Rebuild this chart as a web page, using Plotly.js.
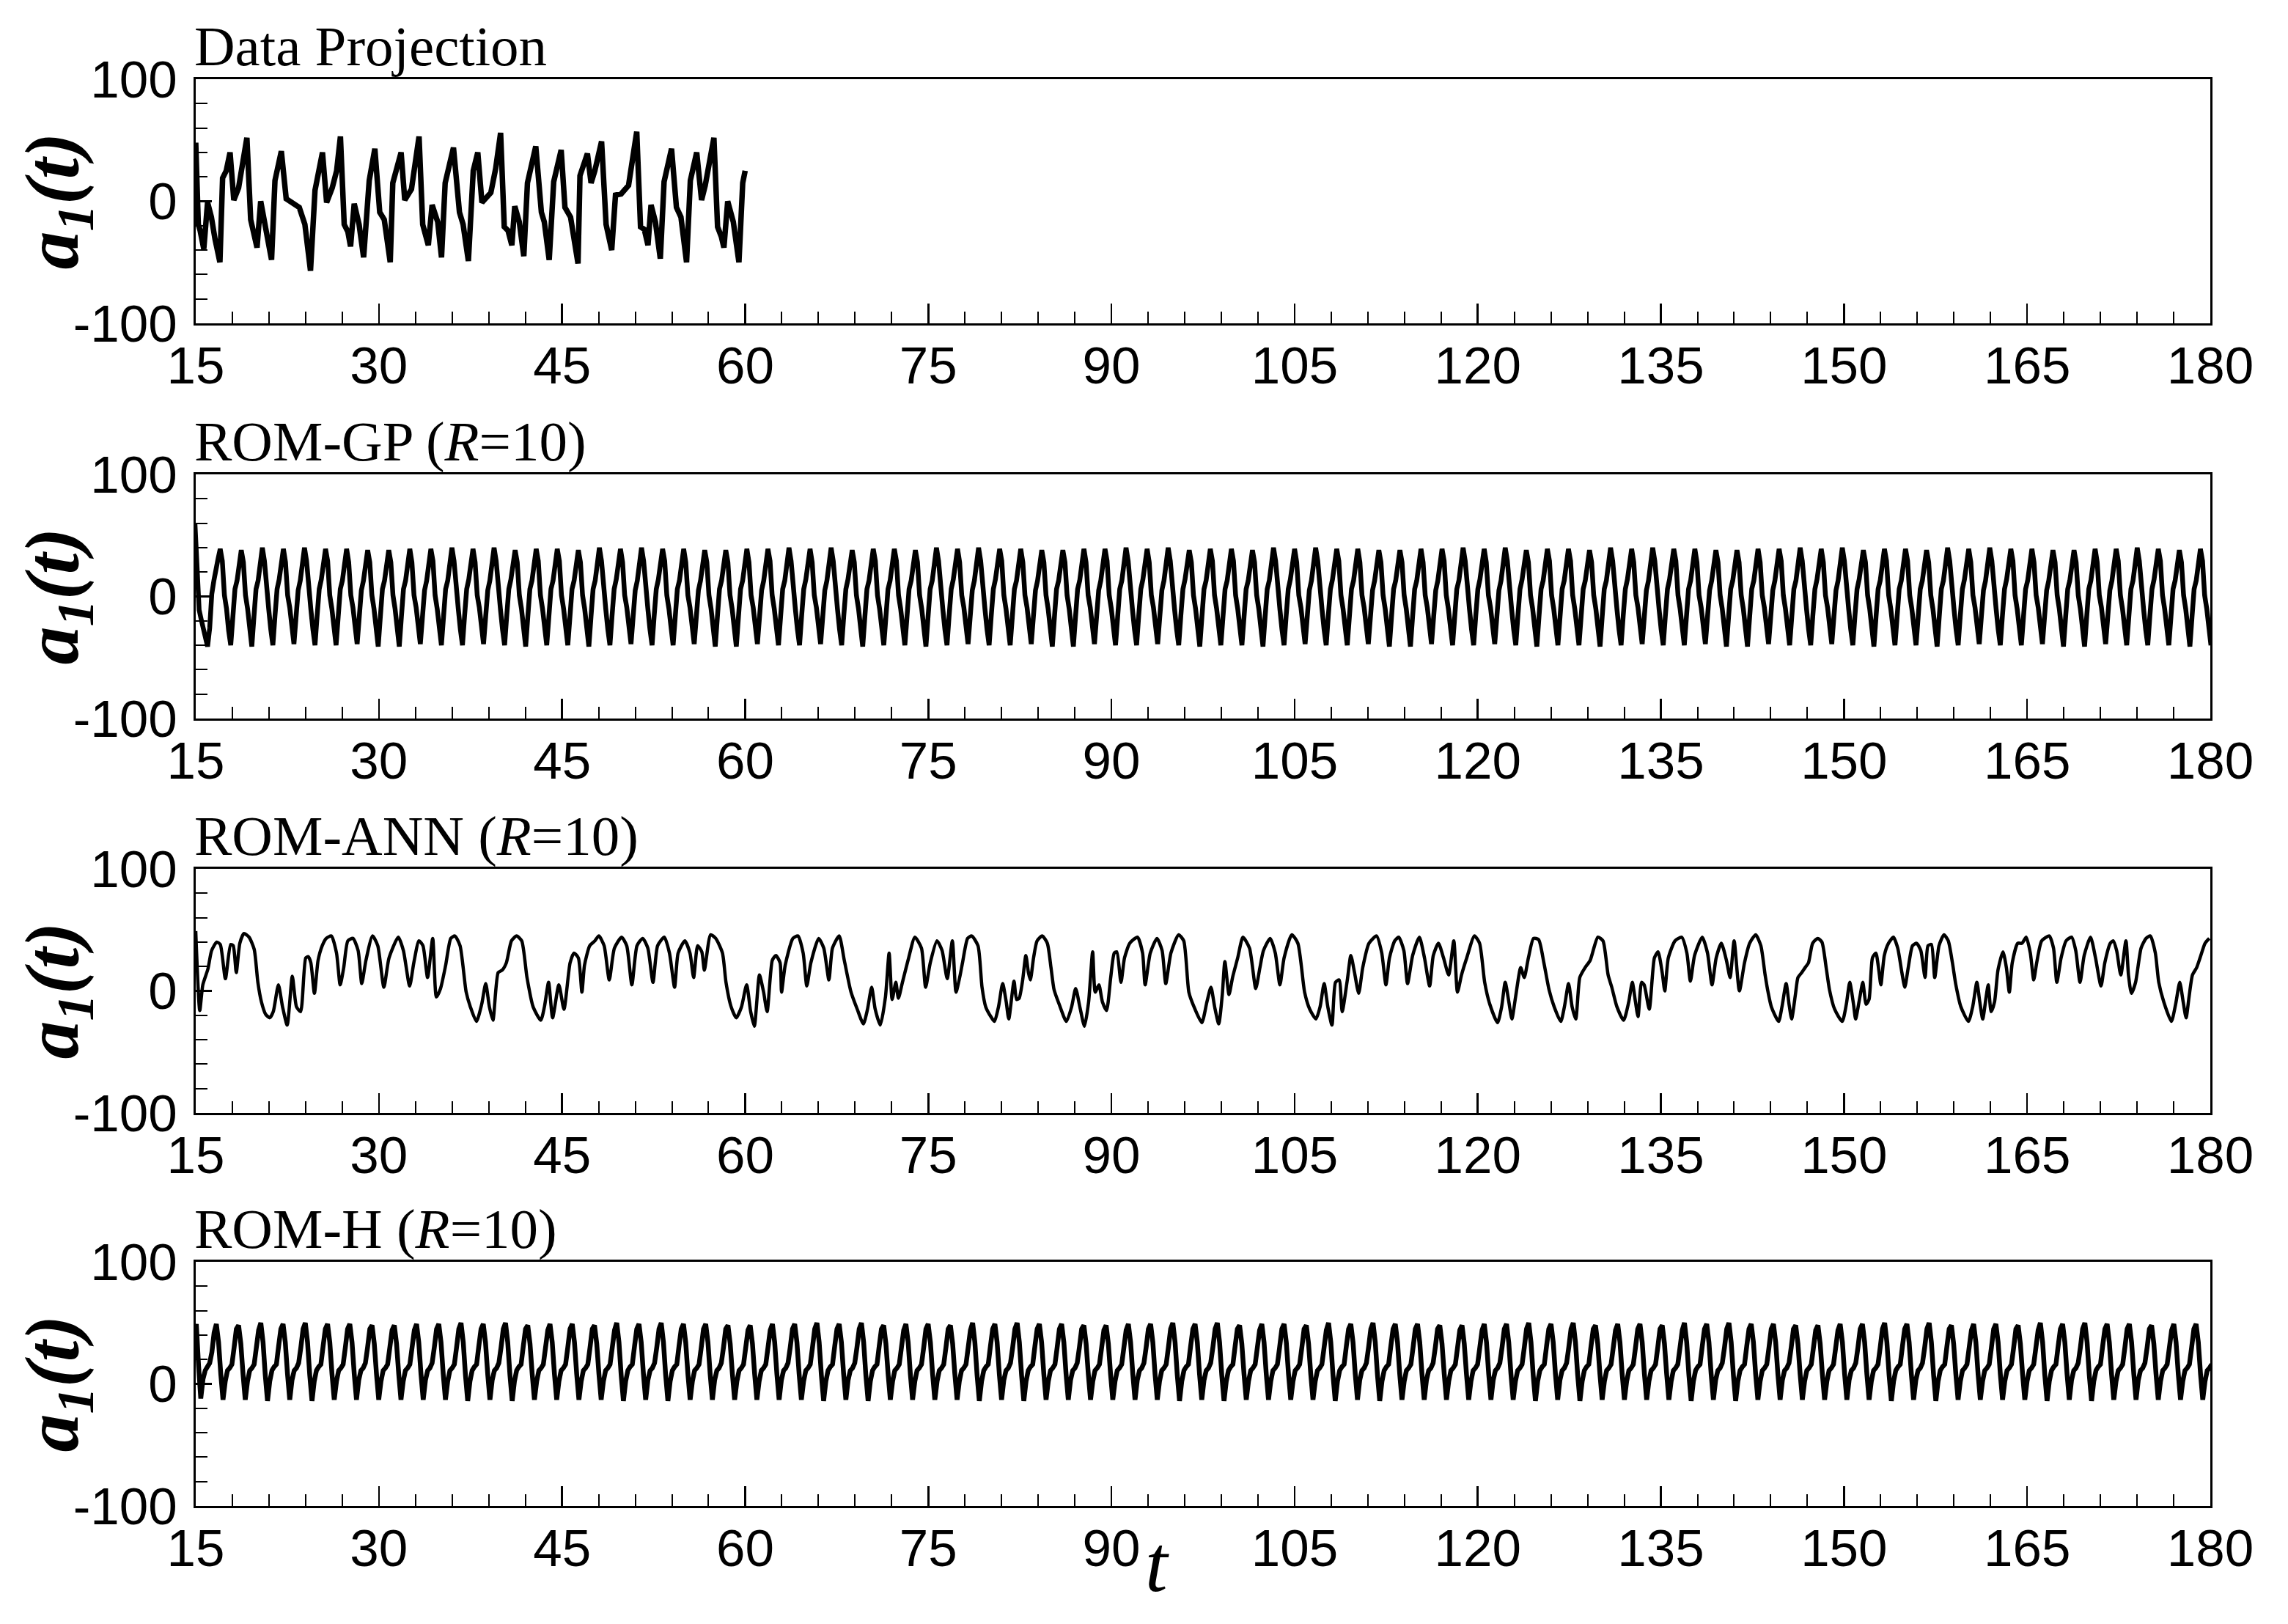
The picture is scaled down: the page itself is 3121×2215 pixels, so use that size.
<!DOCTYPE html>
<html>
<head>
<meta charset="utf-8">
<script src="https://cdn.plot.ly/plotly-3.0.1.min.js"></script>
<style>html,body{margin:0;padding:0;background:#fff;}#plot{width:3121px;height:2215px;}</style>
</head>
<body>
<div id="plot"></div>
<script>
// ---------------- data ----------------
const panelTitles = ["Data Projection", "ROM-GP (<i>R</i>=10)", "ROM-ANN (<i>R</i>=10)", "ROM-H (<i>R</i>=10)"];
const xTickStart = 15, xTickStep = 15, xMinorStep = 3;
const yTickVals = [-100, 0, 100];
const yTickText = ["-100", "0", "100"];

// Panel 1: Data Projection (t from 15 to 60)
const tProj = [15.0,15.21,15.36,15.66,15.97,16.28,16.58,16.98,17.20,17.50,17.81,18.12,18.51,18.88,19.19,19.50,19.71,20.02,20.32,20.66,
21.21,21.49,22.01,22.41,22.87,23.48,23.94,24.40,24.77,25.07,25.38,25.72,26.18,26.54,26.85,27.16,27.46,27.68,27.98,28.38,
28.75,29.21,29.67,30.07,30.44,30.93,31.14,31.82,32.12,32.67,33.29,33.59,34.05,34.36,34.82,35.13,35.43,36.11,36.60,36.90,
37.33,37.73,38.10,38.44,39.17,39.57,39.97,40.27,40.58,40.89,41.13,41.50,41.87,42.17,42.85,43.31,43.55,43.95,44.32,44.93,
45.24,45.70,46.31,46.47,47.08,47.38,47.69,48.24,48.61,49.07,49.38,49.84,50.45,51.12,51.43,51.74,52.04,52.29,52.65,53.05,
53.36,53.97,54.37,54.74,55.20,55.51,56.03,56.43,56.73,57.44,57.74,58.05,58.26,58.57,59.03,59.49,59.80,60.0];
const aProj = [48,-19,-24,-39,-1,-13,-31,-50,19,25,40,1,11,35,52,-15,-25,-38,0,-17,
-48,17,41,2,-1,-5,-19,-57,9,24,40,-1,11,25,53,-19,-25,-37,-2,-19,
-46,17,43,-9,-15,-50,15,40,1,10,53,-19,-36,-3,-17,-46,15,44,-9,-19,
-49,25,40,-1,7,27,56,-21,-24,-36,-4,-17,-45,15,45,-9,-17,-48,16,42,
-5,-13,-51,21,39,15,25,49,-19,-40,5,6,13,57,-21,-23,-36,-3,-17,-47,
16,43,-5,-13,-50,17,40,1,13,52,-21,-29,-38,0,-17,-50,15,25];

// Panel 2: ROM-GP, sampled every dtGP starting at t0GP
const t0GP = 14.934, dtGP = 0.17254;
const aGP = [
60,27,-11,-19,-26,-34,-41,-26,2,13,24,31,
39,29,1,-10,-28,-40,-17,6,13,28, 38,28,1,-10,-28,-41,-17,6,13,28, 40,29,2,-10,-27,-40,-16,6,14,28, 39,28,1,-9,-28,-39,-17,5,13,27,
40,29,2,-10,-27,-40,-16,6,14,28, 39,29,1,-10,-28,-40,-17,6,13,28, 39,28,1,-9,-28,-39,-17,5,13,27, 38,28,1,-10,-28,-41,-17,6,13,28,
38,28,1,-10,-28,-41,-17,6,13,28, 39,28,1,-9,-28,-39,-17,5,13,27, 39,29,1,-10,-28,-40,-17,6,13,28, 40,29,2,-10,-27,-40,-16,6,14,28,
39,28,1,-9,-28,-39,-17,5,13,27, 40,29,2,-10,-27,-40,-16,6,14,28, 38,28,1,-10,-28,-41,-17,6,13,28, 39,29,1,-10,-28,-40,-17,6,13,28,
39,29,1,-10,-28,-40,-17,6,13,28, 38,28,1,-10,-28,-41,-17,6,13,28, 40,29,2,-10,-27,-40,-16,6,14,28, 39,28,1,-9,-28,-39,-17,5,13,27,
40,29,2,-10,-27,-40,-16,6,14,28, 39,29,1,-10,-28,-40,-17,6,13,28, 39,28,1,-9,-28,-39,-17,5,13,27, 38,28,1,-10,-28,-41,-17,6,13,28,
38,28,1,-10,-28,-41,-17,6,13,28, 39,28,1,-9,-28,-39,-17,5,13,27, 39,29,1,-10,-28,-40,-17,6,13,28, 40,29,2,-10,-27,-40,-16,6,14,28,
39,28,1,-9,-28,-39,-17,5,13,27, 40,29,2,-10,-27,-40,-16,6,14,28, 38,28,1,-10,-28,-41,-17,6,13,28, 39,29,1,-10,-28,-40,-17,6,13,28,
39,29,1,-10,-28,-40,-17,6,13,28, 38,28,1,-10,-28,-41,-17,6,13,28, 40,29,2,-10,-27,-40,-16,6,14,28, 39,28,1,-9,-28,-39,-17,5,13,27,
40,29,2,-10,-27,-40,-16,6,14,28, 39,29,1,-10,-28,-40,-17,6,13,28, 39,28,1,-9,-28,-39,-17,5,13,27, 38,28,1,-10,-28,-41,-17,6,13,28,
38,28,1,-10,-28,-41,-17,6,13,28, 39,28,1,-9,-28,-39,-17,5,13,27, 39,29,1,-10,-28,-40,-17,6,13,28, 40,29,2,-10,-27,-40,-16,6,14,28,
39,28,1,-9,-28,-39,-17,5,13,27, 40,29,2,-10,-27,-40,-16,6,14,28, 38,28,1,-10,-28,-41,-17,6,13,28, 39,29,1,-10,-28,-40,-17,6,13,28,
39,29,1,-10,-28,-40,-17,6,13,28, 38,28,1,-10,-28,-41,-17,6,13,28, 40,29,2,-10,-27,-40,-16,6,14,28, 39,28,1,-9,-28,-39,-17,5,13,27,
40,29,2,-10,-27,-40,-16,6,14,28, 39,29,1,-10,-28,-40,-17,6,13,28, 39,28,1,-9,-28,-39,-17,5,13,27, 38,28,1,-10,-28,-41,-17,6,13,28,
38,28,1,-10,-28,-41,-17,6,13,28, 39,28,1,-9,-28,-39,-17,5,13,27, 39,29,1,-10,-28,-40,-17,6,13,28, 40,29,2,-10,-27,-40,-16,6,14,28,
39,28,1,-9,-28,-39,-17,5,13,27, 40,29,2,-10,-27,-40,-16,6,14,28, 38,28,1,-10,-28,-41,-17,6,13,28, 39,29,1,-10,-28,-40,-17,6,13,28,
39,29,1,-10,-28,-40,-17,6,13,28, 38,28,1,-10,-28,-41,-17,6,13,28, 40,29,2,-10,-27,-40,-16,6,14,28, 39,28,1,-9,-28,-39,-17,5,13,27,
40,29,2,-10,-27,-40,-16,6,14,28, 39,29,1,-10,-28,-40,-17,6,13,28, 39,28,1,-9,-28,-39,-17,5,13,27, 38,28,1,-10,-28,-41,-17,6,13,28,
38,28,1,-10,-28,-41,-17,6,13,28, 39,28,1,-9,-28,-39,-17,5,13,27, 39,29,1,-10,-28,-40,-17,6,13,28, 40,29,2,-10,-27,-40,-16,6,14,28,
39,28,1,-9,-28,-39,-17,5,13,27, 40,29,2,-10,-27,-40,-16,6,14,28, 38,28,1,-10,-28,-41,-17,6,13,28, 39,29,1,-10,-28,-40,-17,6,13,28,
39,29,1,-10,-28,-40,-17,6,13,28, 38,28,1,-10,-28,-41,-17,6,13,28, 40,29,2,-10,-27,-40,-16,6,14,28, 39,28,1,-9,-28,-39,-17,5,13,27,
40,29,2,-10,-27,-40,-16,6,14,28, 39,29,1,-10,-28,-40,-17,6,13,28, 39,28,1,-9,-28,-39,-17,5,13,27, 38,28,1,-10,-28,-41,-17,6,13,28,
38,28,1,-10,-28,-41,-17,6,13,28, 39,28,1,-9,-28,-39,-17,5,13,27, 39,29,1,-10,-28,-40,-17,6,13,28, 40,29,2,-10,-27,-40,-16,6,14,28,
39,29,1,-10,-28,-40,-17,6,13,28, 38,28,1,-10,-28,-41,-17,6,13,28,
39,29,1,-10,-28,-40];

// Panel 3: ROM-ANN
const tANN = [15.0,15.33,15.58,16.00,16.30,16.72,17.01,17.43,17.86,18.07,18.32,18.61,18.95,19.37,19.79,20.09,20.38,20.72,21.06,21.35,
21.77,22.11,22.49,22.91,23.25,23.59,24.01,24.22,24.43,24.72,25.02,25.36,25.69,26.11,26.53,26.83,27.12,27.46,27.88,28.30,
28.60,28.94,29.48,29.91,30.41,30.83,31.59,32.01,32.52,32.86,33.28,33.61,33.99,34.41,34.71,35.05,35.47,35.89,36.23,36.65,
37.15,37.49,37.99,38.42,38.75,39.05,39.34,39.77,40.10,40.44,40.86,41.28,41.70,42.13,42.63,43.26,43.56,43.90,44.23,44.74,
45.16,45.66,45.98,46.34,46.63,46.84,47.27,47.69,48.02,48.45,48.87,49.29,49.88,50.30,50.72,51.14,51.61,52.03,52.45,52.83,
53.38,53.80,54.22,54.51,55.06,55.48,55.78,56.11,56.45,56.66,57.17,57.59,58.14,58.43,58.85,59.27,59.70,60.12,60.45,60.75,
61.17,61.51,61.80,62.22,62.52,62.86,62.98,63.28,63.91,64.33,64.75,65.05,65.38,66.02,66.44,66.86,67.15,67.70,68.12,68.67,
69.18,69.68,70.02,70.36,70.65,71.07,71.49,71.79,72.04,72.34,72.55,72.88,73.39,73.90,74.44,74.78,75.16,75.71,76.13,76.55,
76.97,77.27,77.59,77.80,78.22,78.56,79.07,79.40,79.70,80.12,80.42,80.75,81.09,81.38,81.59,82.02,82.23,82.44,82.73,82.99,
83.20,83.36,83.62,83.91,84.33,84.75,85.05,85.30,85.72,86.31,86.74,87.07,87.41,87.79,88.13,88.46,88.67,88.97,89.26,89.60,
89.94,90.23,90.44,90.78,91.07,91.50,92.13,92.55,92.76,93.18,93.73,94.15,94.45,94.87,95.50,95.92,96.34,96.76,97.40,97.82,
98.15,98.45,98.79,99.08,99.29,99.63,99.92,100.34,100.77,101.31,101.82,102.16,102.45,103.00,103.42,103.80,104.14,104.77,105.27,105.82,
106.24,106.75,107.09,107.42,107.72,108.06,108.35,108.65,108.90,109.32,109.61,109.91,110.25,110.58,111.09,111.72,112.14,112.48,112.77,113.20,
113.53,113.95,114.25,114.67,115.22,115.64,116.06,116.36,116.78,117.20,117.62,118.04,118.34,118.67,119.10,119.73,120.15,120.57,120.99,121.62,
121.96,122.25,122.55,122.80,123.10,123.52,123.81,124.15,124.57,124.99,125.42,125.84,126.26,126.80,127.10,127.44,127.73,128.03,128.36,128.79,
129.21,129.84,130.26,130.68,130.98,131.40,131.95,132.37,132.66,132.92,133.13,133.42,133.63,134.05,134.47,134.77,135.11,135.32,135.61,136.16,
136.71,137.13,137.42,137.76,138.39,138.82,139.19,139.53,139.95,140.37,140.67,141.00,141.43,141.85,142.27,142.77,143.19,143.54,143.78,144.05,
144.64,144.92,145.26,145.50,145.71,146.02,146.23,146.54,146.81,147.09,147.43,147.85,148.19,148.54,148.81,149.23,149.85,150.19,150.47,150.78,
150.95,151.30,151.54,151.81,152.05,152.33,152.61,152.85,153.02,153.30,153.64,154.05,154.40,154.74,154.98,155.26,155.61,155.95,156.29,156.64,
156.88,157.16,157.43,157.78,158.19,158.54,158.88,159.16,159.57,160.19,160.54,160.88,161.12,161.36,161.64,161.81,162.05,162.33,162.61,163.02,
163.30,163.54,163.78,164.23,164.57,164.92,165.26,165.54,165.78,166.19,166.81,167.16,167.43,167.78,168.19,168.64,168.98,169.33,169.67,170.19,
170.60,171.05,171.36,171.81,172.05,172.33,172.67,173.09,173.30,173.54,173.88,174.33,174.74,175.09,175.50,175.78,176.19,176.81,177.16,177.50,
177.78,178.02,178.26,178.54,178.88,179.16,179.57,179.92];
const aANN = [49,-16,5,18,33,40,38,10,38,37,15,39,47,44,34,7,-9,-19,-22,-17,
5,-13,-28,12,-13,-17,27,28,23,-2,25,37,43,45,31,5,19,41,43,33,
6,25,45,37,3,27,44,33,4,23,41,37,11,43,-5,2,21,43,45,37,
-1,-13,-25,-11,6,-13,-24,15,17,23,41,45,41,11,-13,-24,-13,7,-22,5,
-15,23,31,27,-1,21,37,41,45,37,9,35,44,37,5,37,43,35,7,37,
44,31,3,31,41,31,11,37,32,17,46,43,31,7,-13,-22,-13,5,-17,-29,
13,-1,-17,25,29,23,-1,21,43,45,31,4,23,43,35,9,35,45,25,-1,
-15,-27,-15,3,-15,-28,-5,31,-7,7,-6,7,27,44,35,3,23,41,33,10,
41,-1,12,23,43,45,37,3,-13,-21,-25,-13,6,-9,-23,8,-7,-6,9,29,
15,9,27,41,45,39,19,1,-11,-25,-13,2,-13,-29,-9,32,-1,5,-9,-16,
11,31,32,7,27,39,44,31,5,31,43,33,6,31,46,41,-1,-13,-26,-9,
3,-13,-27,-3,24,-3,11,27,44,35,2,19,33,43,31,5,27,46,39,-1,
-15,-23,-13,6,-13,-28,7,9,-17,9,29,15,-2,19,39,45,31,5,27,41,
44,33,6,29,44,27,4,29,39,27,13,41,-1,13,27,45,39,7,-11,-26,
-13,7,-9,-23,-5,19,11,27,43,42,23,1,-13,-25,-13,6,-13,-23,11,19,
25,44,41,13,3,-13,-24,-9,7,-9,-21,7,5,-15,27,32,15,0,27,41,
44,31,8,29,44,31,5,27,39,25,11,41,0,23,39,46,37,13,-1,-13,
-25,-13,6,-11,-23,-3,11,15,19,23,39,43,40,19,1,-15,-25,-11,7,-11,
-23,-5,7,-11,-7,27,31,17,5,29,39,44,35,15,3,19,37,39,33,11,
37,38,11,37,46,41,23,5,-13,-25,-13,7,-9,-23,-5,5,-17,-9,17,32,
19,-1,23,39,39,44,31,9,23,41,45,35,7,27,41,44,33,7,29,44,
27,4,23,39,41,33,13,41,13,-2,7,35,43,45,31,7,-9,-25,-11,7,
-9,-22,-5,13,19,27,39,43];

// Panel 4: ROM-H, sampled every dtH starting at t0H
const t0H = 14.866, dtH = 0.18219;
const aH = [
40,49,15,-12,4,11,14,17,26,42,
49,34,8,-13,2,11,13,16,30,45, 48,33,8,-13,2,11,13,16,30,44, 50,34,7,-14,2,11,14,16,31,45, 49,34,8,-13,3,11,13,17,30,45,
50,34,7,-14,2,11,14,16,31,45, 49,34,8,-13,2,11,13,16,30,45, 49,34,8,-13,3,11,13,17,30,45, 48,33,8,-13,2,11,13,16,30,44,
48,33,8,-13,2,11,13,16,30,44, 49,34,8,-13,3,11,13,17,30,45, 49,34,8,-13,2,11,13,16,30,45, 50,34,7,-14,2,11,14,16,31,45,
49,34,8,-13,3,11,13,17,30,45, 50,34,7,-14,2,11,14,16,31,45, 48,33,8,-13,2,11,13,16,30,44, 49,34,8,-13,2,11,13,16,30,45,
49,34,8,-13,2,11,13,16,30,45, 48,33,8,-13,2,11,13,16,30,44, 50,34,7,-14,2,11,14,16,31,45, 49,34,8,-13,3,11,13,17,30,45,
50,34,7,-14,2,11,14,16,31,45, 49,34,8,-13,2,11,13,16,30,45, 49,34,8,-13,3,11,13,17,30,45, 48,33,8,-13,2,11,13,16,30,44,
48,33,8,-13,2,11,13,16,30,44, 49,34,8,-13,3,11,13,17,30,45, 49,34,8,-13,2,11,13,16,30,45, 50,34,7,-14,2,11,14,16,31,45,
49,34,8,-13,3,11,13,17,30,45, 50,34,7,-14,2,11,14,16,31,45, 48,33,8,-13,2,11,13,16,30,44, 49,34,8,-13,2,11,13,16,30,45,
49,34,8,-13,2,11,13,16,30,45, 48,33,8,-13,2,11,13,16,30,44, 50,34,7,-14,2,11,14,16,31,45, 49,34,8,-13,3,11,13,17,30,45,
50,34,7,-14,2,11,14,16,31,45, 49,34,8,-13,2,11,13,16,30,45, 49,34,8,-13,3,11,13,17,30,45, 48,33,8,-13,2,11,13,16,30,44,
48,33,8,-13,2,11,13,16,30,44, 49,34,8,-13,3,11,13,17,30,45, 49,34,8,-13,2,11,13,16,30,45, 50,34,7,-14,2,11,14,16,31,45,
49,34,8,-13,3,11,13,17,30,45, 50,34,7,-14,2,11,14,16,31,45, 48,33,8,-13,2,11,13,16,30,44, 49,34,8,-13,2,11,13,16,30,45,
49,34,8,-13,2,11,13,16,30,45, 48,33,8,-13,2,11,13,16,30,44, 50,34,7,-14,2,11,14,16,31,45, 49,34,8,-13,3,11,13,17,30,45,
50,34,7,-14,2,11,14,16,31,45, 49,34,8,-13,2,11,13,16,30,45, 49,34,8,-13,3,11,13,17,30,45, 48,33,8,-13,2,11,13,16,30,44,
48,33,8,-13,2,11,13,16,30,44, 49,34,8,-13,3,11,13,17,30,45, 49,34,8,-13,2,11,13,16,30,45, 50,34,7,-14,2,11,14,16,31,45,
49,34,8,-13,3,11,13,17,30,45, 50,34,7,-14,2,11,14,16,31,45, 48,33,8,-13,2,11,13,16,30,44, 49,34,8,-13,2,11,13,16,30,45,
49,34,8,-13,2,11,13,16,30,45, 48,33,8,-13,2,11,13,16,30,44, 50,34,7,-14,2,11,14,16,31,45, 49,34,8,-13,3,11,13,17,30,45,
50,34,7,-14,2,11,14,16,31,45, 49,34,8,-13,2,11,13,16,30,45, 49,34,8,-13,3,11,13,17,30,45, 48,33,8,-13,2,11,13,16,30,44,
48,33,8,-13,2,11,13,16,30,44, 49,34,8,-13,3,11,13,17,30,45, 49,34,8,-13,2,11,13,16,30,45, 50,34,7,-14,2,11,14,16,31,45,
49,34,8,-13,3,11,13,17,30,45, 50,34,7,-14,2,11,14,16,31,45, 48,33,8,-13,2,11,13,16,30,44, 49,34,8,-13,2,11,13,16,30,45,
49,34,8,-13,2,11,13,16,30,45, 48,33,8,-13,2,11,13,16,30,44, 50,34,7,-14,2,11,14,16,31,45, 49,34,8,-13,3,11,13,17,30,45,
50,34,7,-14,2,11,14,16,31,45, 49,34,8,-13,2,11,13,16,30,45, 49,34,8,-13,3,11,13,17,30,45, 48,33,8,-13,2,11,13,16,30,44,
49,34,8,-13,2,11,13,16,30,45,
49,34,8,-13,2,11,13,16];

// ---------------- layout ----------------
const W = 3121, H = 2215;
const panelTop = [108, 647, 1185, 1721];
const panelH = 333;
const xL = 267 / W, xR = 3015 / W;
const serif = "Liberation Serif, Times New Roman, serif";
const sans = "Liberation Sans, Arial, sans-serif";

function yDomain(top) { return [1 - (top + panelH) / H, 1 - top / H]; }

const traces = [
  {x: tProj, y: aProj, xaxis: 'x', yaxis: 'y', type: 'scatter', mode: 'lines',
   line: {color: '#000', width: 7.5}},
  {y: aGP, x0: t0GP, dx: dtGP, xaxis: 'x2', yaxis: 'y2', type: 'scatter', mode: 'lines',
   line: {color: '#000', width: 6.5}},
  {x: tANN, y: aANN, xaxis: 'x3', yaxis: 'y3', type: 'scatter', mode: 'lines',
   line: {color: '#000', width: 4.5, shape: 'spline', smoothing: 0.6}},
  {y: aH, x0: t0H, dx: dtH, xaxis: 'x4', yaxis: 'y4', type: 'scatter', mode: 'lines',
   line: {color: '#000', width: 6.5}}
];

const layout = {
  width: W, height: H,
  margin: {l: 0, r: 0, t: 0, b: 0},
  paper_bgcolor: '#fff', plot_bgcolor: '#fff',
  showlegend: false,
  annotations: []
};

for (let i = 0; i < 4; i++) {
  const s = i === 0 ? '' : String(i + 1);
  const dom = yDomain(panelTop[i]);
  layout['xaxis' + s] = {
    domain: [xL, xR], anchor: 'y' + s, range: [15, 180],
    tickmode: 'linear', tick0: xTickStart, dtick: xTickStep,
    ticks: 'inside', ticklen: 27, tickwidth: 2.5, tickcolor: '#000',
    minor: {tickmode: 'linear', tick0: xTickStart, dtick: xMinorStep, ticks: 'inside', ticklen: 16, tickwidth: 2, tickcolor: '#000', showgrid: false},
    showline: true, linewidth: 3, linecolor: '#000', mirror: true,
    showgrid: false, zeroline: false,
    tickfont: {family: sans, size: 71, color: '#000'},
    ticklabelstandoff: -6, fixedrange: true
  };
  layout['yaxis' + s] = {
    domain: dom, anchor: 'x' + s, range: [-100, 100],
    tickmode: 'array', tickvals: yTickVals, ticktext: yTickText,
    ticks: 'inside', ticklen: 22, tickwidth: 2.5, tickcolor: '#000',
    minor: {tickmode: 'linear', tick0: -100, dtick: 20, ticks: 'inside', ticklen: 16, tickwidth: 2, tickcolor: '#000', showgrid: false},
    showline: true, linewidth: 3, linecolor: '#000', mirror: true,
    showgrid: false, zeroline: false,
    tickfont: {family: sans, size: 71, color: '#000'},
    ticklabelstandoff: 8, fixedrange: true
  };
  // panel title
  layout.annotations.push({
    xref: 'paper', yref: 'paper', x: 263 / W, y: dom[1], xanchor: 'left', yanchor: 'bottom',
    text: panelTitles[i], showarrow: false, font: {family: serif, size: 77, color: '#000'}
  });
  // y-axis title
  layout.annotations.push({
    xref: 'paper', yref: 'paper', x: 78 / W, y: (dom[0] + dom[1]) / 2, xanchor: 'center', yanchor: 'middle',
    text: 'a<sub>1</sub>(t)', textangle: -90, showarrow: false,
    font: {family: serif, size: 104, color: '#000', weight: 'bold', style: 'italic'}
  });
}
// x-axis title (bottom panel only)
layout.annotations.push({
  xref: 'paper', yref: 'paper', x: 1578 / W, y: 1 - 2070 / H, xanchor: 'center', yanchor: 'top',
  text: 't', showarrow: false, font: {family: serif, size: 110, color: '#000', style: 'italic'}
});

Plotly.newPlot('plot', traces, layout, {staticPlot: true, displayModeBar: false});
</script>
</body>
</html>
